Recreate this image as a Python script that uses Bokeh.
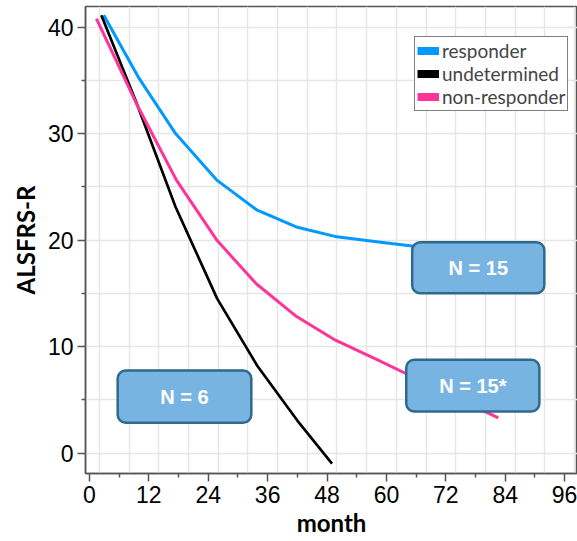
from bokeh.plotting import figure
from bokeh.models import Range1d, FixedTicker, Legend, LegendItem, BoxAnnotation, Label
from bokeh.embed import file_html
from bokeh.resources import INLINE

# ---- data ----
series_names = ["responder", "undetermined", "non-responder"]
series_colors = ["#0099FF", "#000000", "#FF3399"]

months_responder = [2.9, 10.0, 17.4, 25.8, 33.9, 42.0, 50.0, 58.0, 66.0, 74.0]
alsfrs_responder = [41.1, 35.2, 30.0, 25.6, 22.8, 21.2, 20.3, 19.85, 19.4, 19.0]

months_undetermined = [2.4, 9.5, 17.4, 25.8, 33.9, 42.0, 49.0]
alsfrs_undetermined = [41.1, 32.9, 23.1, 14.5, 8.2, 3.05, -1.0]

months_nonresponder = [1.4, 9.5, 17.6, 25.8, 33.7, 41.6, 49.7, 58.0, 66.0, 74.0, 82.6]
alsfrs_nonresponder = [40.8, 32.8, 25.6, 19.95, 15.9, 12.9, 10.6, 8.8, 7.0, 5.2, 3.3]

x_tick_values = [0, 12, 24, 36, 48, 60, 72, 84, 96]
y_tick_values = [0, 10, 20, 30, 40]
group_labels = ["N = 15", "N = 6", "N = 15*"]

TICK_FONT = "Liberation Sans"
LABEL_FONT = "Lato"

p = figure(width=577, height=541, output_backend="svg", toolbar_location=None,
           x_range=Range1d(-0.8, 98.6), y_range=Range1d(-1.92, 41.93),
           min_border_left=85, min_border_right=0, min_border_top=6, min_border_bottom=68)
p.background_fill_color = "white"
p.border_fill_color = "white"
p.outline_line_color = "#555555"
p.outline_line_width = 1.5

# axes
p.xaxis.ticker = FixedTicker(ticks=x_tick_values,
                             minor_ticks=[t + 6 for t in x_tick_values[:-1]])
p.yaxis.ticker = FixedTicker(ticks=y_tick_values,
                             minor_ticks=[t + 5 for t in y_tick_values[:-1]])
for ax in (p.xaxis[0], p.yaxis[0]):
    ax.axis_line_color = "#555555"
    ax.axis_line_width = 1.5
    ax.major_tick_line_color = "#555555"
    ax.minor_tick_line_color = "#555555"
    ax.major_tick_line_width = 1.5
    ax.minor_tick_line_width = 1.5
    ax.major_tick_out = 8
    ax.major_tick_in = 0
    ax.minor_tick_out = 4
    ax.minor_tick_in = 0
    ax.major_label_text_font = TICK_FONT
    ax.major_label_text_font_size = "23px"
    ax.major_label_text_color = "black"
    ax.axis_label_text_font = LABEL_FONT
    ax.axis_label_text_font_style = "bold"
    ax.axis_label_text_font_size = "24px"
    ax.axis_label_text_color = "black"
p.xaxis.axis_label = "month"
p.yaxis.axis_label = "ALSFRS-R"
p.xaxis.major_label_standoff = 4
p.yaxis.major_label_standoff = 4
p.xaxis.axis_label_standoff = 2
p.yaxis.axis_label_standoff = 5

# grid (offset vertical grid as in the reference)
p.xgrid.ticker = FixedTicker(ticks=[2 + 6 * k for k in range(17)])
p.ygrid.ticker = FixedTicker(ticks=[5 * k for k in range(9)])
for g in (p.xgrid[0], p.ygrid[0]):
    g.grid_line_color = "#e6e6e6"
    g.grid_line_width = 1.5

# lines
p.line(months_responder, alsfrs_responder, line_color=series_colors[0], line_width=3)
p.line(months_undetermined, alsfrs_undetermined, line_color=series_colors[1], line_width=2.7)
p.line(months_nonresponder, alsfrs_nonresponder, line_color=series_colors[2], line_width=3)

# legend swatches (thick bars); NaN placeholder so nothing is drawn in the plot area
nan = float("nan")
swatches = [p.line(x=[nan], y=[nan], line_color=c, line_width=8) for c in series_colors]
legend = Legend(items=[LegendItem(label=n, renderers=[s]) for n, s in zip(series_names, swatches)],
                location=(329, 362), glyph_width=22, glyph_height=21, label_height=21,
                spacing=0, padding=2, margin=0, label_standoff=3,
                border_line_color="black", border_line_width=1,
                background_fill_color="white", background_fill_alpha=1,
                label_text_font=LABEL_FONT, label_text_font_size="19px")
p.add_layout(legend)

# N boxes
box_style = dict(fill_color="#78B4E2", fill_alpha=1, line_color="#2D6A8C",
                 line_alpha=1, line_width=2.5, border_radius=8)
boxes = [
    dict(left=65.2, right=91.9, top=19.79, bottom=15.0),
    dict(left=5.7, right=32.7, top=7.75, bottom=2.84),
    dict(left=64.0, right=90.9, top=8.75, bottom=3.9),
]
for b, txt in zip(boxes, group_labels):
    p.add_layout(BoxAnnotation(**b, **box_style))
    p.add_layout(Label(x=(b["left"] + b["right"]) / 2, y=(b["top"] + b["bottom"]) / 2,
                       text=txt, text_align="center", text_baseline="middle",
                       text_color="white", text_font=TICK_FONT, text_font_style="bold",
                       text_font_size="20px"))

open("out.html", "w").write(file_html(p, INLINE))
